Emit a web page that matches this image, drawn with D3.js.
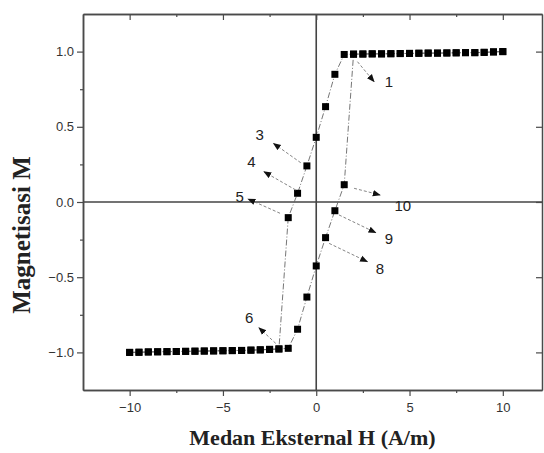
<!DOCTYPE html>
<html><head><meta charset="utf-8">
<script src="https://cdn.jsdelivr.net/npm/d3@7/dist/d3.min.js"></script>
<style>body{margin:0;background:#fff}svg{display:block}</style>
</head><body>
<svg id="c" width="544" height="453"></svg>
<script>
// Field values H (A/m)
const H = [-10,-9.5,-9,-8.5,-8,-7.5,-7,-6.5,-6,-5.5,-5,-4.5,-4,-3.5,-3,-2.5,-2,-1.5,-1,-0.5,0,0.5,1,1.5,2,2.5,3,3.5,4,4.5,5,5.5,6,6.5,7,7.5,8,8.5,9,9.5,10];
// Descending branch (upper loop)
const mDescending = [-1.0,-0.999,-0.997,-0.996,-0.995,-0.994,-0.993,-0.992,-0.991,-0.990,-0.989,-0.988,-0.987,-0.985,-0.983,-0.980,-0.977,
  -0.104,0.058,0.240,0.430,0.634,0.849,0.981,
  0.983,0.984,0.985,0.985,0.986,0.987,0.988,0.989,0.990,0.990,0.991,0.992,0.993,0.993,0.995,0.998,1.0];
// Ascending branch (lower loop)
const mAscending = [-1.0,-0.999,-0.997,-0.996,-0.995,-0.994,-0.993,-0.992,-0.991,-0.990,-0.989,-0.988,-0.987,-0.985,-0.983,-0.980,-0.977,
  -0.973,-0.846,-0.632,-0.425,-0.237,-0.058,0.115,
  0.983,0.984,0.985,0.985,0.986,0.987,0.988,0.989,0.990,0.990,0.991,0.992,0.993,0.993,0.995,0.998,1.0];
const xTicks = [-10,-5,0,5,10];
const xMinor = [-7.5,-2.5,2.5,7.5];
const yTicks = [-1.0,-0.5,0.0,0.5,1.0];
const yMinor = [-0.75,-0.25,0.25,0.75];
// Annotation labels: text position, arrow start, arrow end (data coords)
const annLabels = ["1","3","4","5","6","8","9","10"];
const annText = [[3.89,0.80],[-3.03,0.452],[-3.47,0.268],[-4.10,0.037],[-3.60,-0.765],[3.42,-0.439],[3.90,-0.241],[4.64,-0.020]];
const annFrom = [[2.21,0.933],[-0.83,0.261],[-1.10,0.080],[-1.94,-0.075],[-2.17,-0.940],[0.69,-0.275],[1.22,-0.086],[2.03,0.091]];
const annTo = [[3.10,0.80],[-2.29,0.39],[-2.80,0.201],[-3.65,0.020],[-3.07,-0.836],[2.74,-0.397],[3.19,-0.204],[3.42,0.047]];

const svg = d3.select("#c");
const L=83, R=542, T=14, B=390;
const x = d3.scaleLinear().domain([-12.5,12.1]).range([L,R]);
const y = d3.scaleLinear().domain([-1.25,1.25]).range([B,T]);
const axisColor="#4a4a4a";

// zero lines
svg.append("line").attr("x1",L).attr("x2",R).attr("y1",y(0)).attr("y2",y(0)).attr("stroke","#444").attr("stroke-width",1.6);
svg.append("line").attr("x1",x(0)).attr("x2",x(0)).attr("y1",T).attr("y2",B).attr("stroke","#444").attr("stroke-width",1.6);

function styleAxis(g){
  g.select(".domain").attr("stroke",axisColor).attr("stroke-width",1.5);
  g.selectAll(".tick line").attr("stroke",axisColor).attr("stroke-width",1.2);
  g.selectAll("text").attr("fill","#333").attr("font-family","'Liberation Sans',Arial,sans-serif").attr("font-size",13);
}
// bottom
const gb = svg.append("g").attr("transform",`translate(0,${B})`)
  .call(d3.axisBottom(x).tickValues(xTicks).tickSize(6).tickPadding(7).tickFormat(d3.format("d")).tickSizeOuter(0));
styleAxis(gb);
svg.append("g").attr("transform",`translate(0,${B})`)
  .call(d3.axisBottom(x).tickValues(xMinor).tickSize(3).tickFormat("").tickSizeOuter(0)).call(styleAxis);
// top (inward ticks)
svg.append("g").attr("transform",`translate(0,${T})`)
  .call(d3.axisTop(x).tickValues(xTicks).tickSize(-6).tickFormat("").tickSizeOuter(0)).call(styleAxis);
svg.append("g").attr("transform",`translate(0,${T})`)
  .call(d3.axisTop(x).tickValues(xMinor).tickSize(-3).tickFormat("").tickSizeOuter(0)).call(styleAxis);
// left
const gl = svg.append("g").attr("transform",`translate(${L},0)`)
  .call(d3.axisLeft(y).tickValues(yTicks).tickSize(6).tickPadding(3).tickFormat(d3.format(".1f")).tickSizeOuter(0));
styleAxis(gl);
svg.append("g").attr("transform",`translate(${L},0)`)
  .call(d3.axisLeft(y).tickValues(yMinor).tickSize(3).tickFormat("").tickSizeOuter(0)).call(styleAxis);
// right
svg.append("g").attr("transform",`translate(${R},0)`)
  .call(d3.axisRight(y).tickValues(yTicks).tickSize(-6).tickFormat("").tickSizeOuter(0)).call(styleAxis);

// lines
const line = d3.line().x((d,i)=>x(H[i])).y(d=>y(d));
[mDescending,mAscending].forEach(arr=>{
  svg.append("path").datum(arr).attr("d",line).attr("fill","none")
    .attr("stroke","#666").attr("stroke-width",0.9).attr("stroke-dasharray","6,2,1,2");
});
// squares
const sq=7;
[mDescending,mAscending].forEach(arr=>{
  svg.append("g").selectAll("rect").data(arr).join("rect")
    .attr("x",(d,i)=>x(H[i])-sq/2).attr("y",d=>y(d)-sq/2)
    .attr("width",sq).attr("height",sq).attr("fill","#000");
});

// arrow marker
svg.append("defs").append("marker").attr("id","ah").attr("viewBox","0 0 10 10")
  .attr("refX",9).attr("refY",5).attr("markerWidth",8).attr("markerHeight",8)
  .attr("markerUnits","userSpaceOnUse").attr("orient","auto")
  .append("path").attr("d","M0,1 L10,5 L0,9 Z").attr("fill","#111");
annLabels.forEach((lab,i)=>{
  svg.append("line").attr("x1",x(annFrom[i][0])).attr("y1",y(annFrom[i][1]))
    .attr("x2",x(annTo[i][0])).attr("y2",y(annTo[i][1]))
    .attr("stroke","#777").attr("stroke-width",0.9).attr("stroke-dasharray","3,2")
    .attr("marker-end","url(#ah)");
  svg.append("text").attr("x",x(annText[i][0])).attr("y",y(annText[i][1]))
    .attr("text-anchor","middle").attr("dominant-baseline","central")
    .attr("font-family","'Liberation Sans',Arial,sans-serif").attr("font-size",15).attr("fill","#222")
    .text(lab);
});

// axis titles
svg.append("text").attr("x",(L+R)/2).attr("y",445).attr("text-anchor","middle")
  .attr("font-family","'Liberation Serif','Times New Roman',serif").attr("font-weight","bold")
  .attr("font-size",22).attr("fill","#222").text("Medan Eksternal H (A/m)");
svg.append("text").attr("transform",`translate(30,235) rotate(-90)`).attr("text-anchor","middle")
  .attr("font-family","'Liberation Serif','Times New Roman',serif").attr("font-weight","bold")
  .attr("font-size",25).attr("fill","#222").text("Magnetisasi M");
</script>
</body></html>
